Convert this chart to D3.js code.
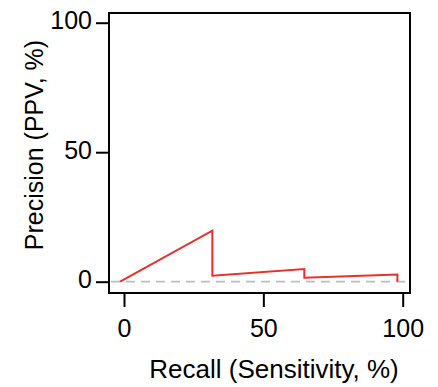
<!DOCTYPE html>
<html><head><meta charset="utf-8">
<script src="https://cdn.jsdelivr.net/npm/d3@7"></script>
<style>body{margin:0;background:#fff}svg{display:block}text{font-family:"Liberation Sans",Arial,sans-serif}</style>
</head><body>
<script>
const recall = [-1.4, 31.7, 31.7, 64.7, 64.7, 98.1, 98.1];
const precision = [0, 19.7, 2.3, 4.9, 1.5, 2.8, 0];
const xTicks = [0, 50, 100];
const yTicks = [0, 50, 100];
const baseline = [0];

const W = 438, H = 387;
const svg = d3.select("body").append("svg").attr("width", W).attr("height", H);
const box = {l: 109, r: 410, t: 13, b: 293};
const x = d3.scaleLinear().domain([0, 100]).range([124, 402.7]);
const y = d3.scaleLinear().domain([0, 100]).range([281.7, 22.7]);

svg.selectAll(".base").data(baseline).enter().append("line")
  .attr("x1", box.l + 2).attr("x2", box.r - 2)
  .attr("y1", d => y(d)).attr("y2", d => y(d))
  .attr("stroke", "#bdbdbd").attr("stroke-width", 1.8).attr("stroke-dasharray", "9,6");

const pts = recall.map((r, i) => [r, precision[i]]);
svg.append("path").datum(pts)
  .attr("d", d3.line().x(d => x(d[0])).y(d => y(d[1])))
  .attr("fill", "none").attr("stroke", "#e8302a").attr("stroke-width", 2);

svg.append("rect").attr("x", box.l).attr("y", box.t).attr("width", box.r - box.l).attr("height", box.b - box.t)
  .attr("fill", "none").attr("stroke", "#000").attr("stroke-width", 2);

const xa = svg.append("g").attr("transform", `translate(0,${box.b})`)
  .call(d3.axisBottom(x).tickValues(xTicks).tickSize(14).tickPadding(12).tickFormat(d3.format("d")));
xa.select(".domain").remove();
xa.selectAll("line").attr("stroke-width", 2);
xa.selectAll("text").attr("font-size", 25).attr("fill", "#000");

const ya = svg.append("g").attr("transform", `translate(${box.l},0)`)
  .call(d3.axisLeft(y).tickValues(yTicks).tickSize(13).tickPadding(4).tickFormat(d3.format("d")));
ya.select(".domain").remove();
ya.selectAll("line").attr("stroke-width", 2);
ya.selectAll("text").attr("font-size", 25).attr("fill", "#000").attr("dy", "0.24em");

svg.append("text").attr("x", 274).attr("y", 378).attr("text-anchor", "middle")
  .attr("font-size", 26).text("Recall (Sensitivity, %)");
svg.append("text").attr("transform", "translate(42.5,145) rotate(-90)").attr("text-anchor", "middle")
  .attr("font-size", 25).text("Precision (PPV, %)");
</script>
</body></html>
